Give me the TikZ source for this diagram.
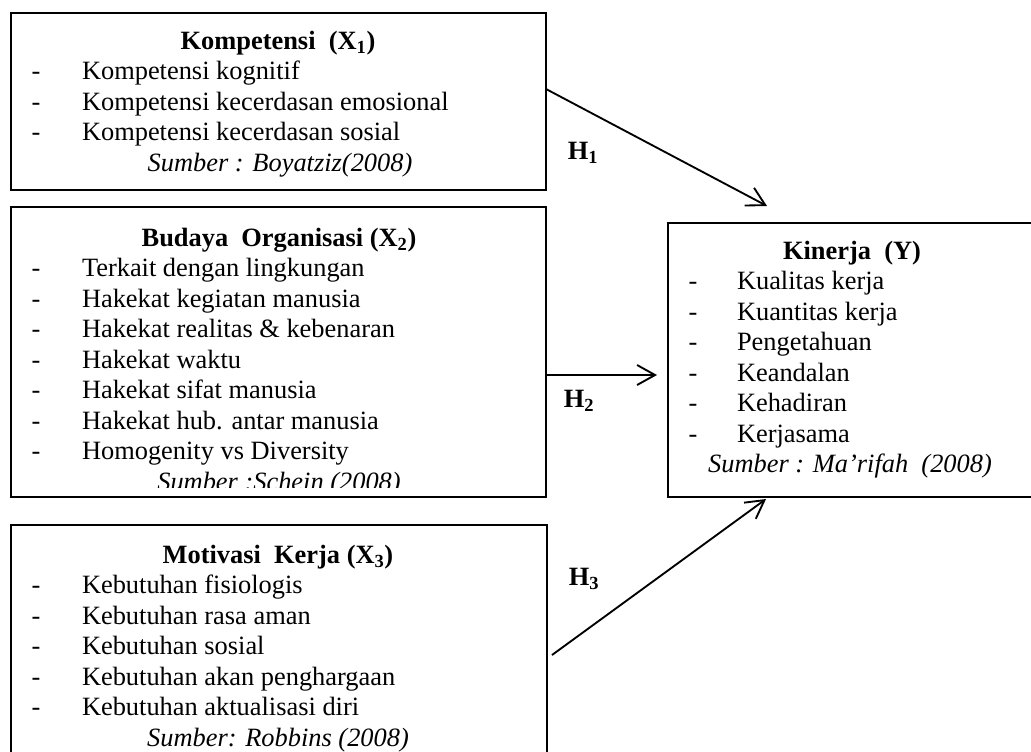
\documentclass[tikz,border=0pt]{standalone}
\usepackage{fontspec}
\setmainfont{Liberation Serif}
\usetikzlibrary{calc,fit,arrows.meta}
\begin{document}
\begin{tikzpicture}[x=0.75pt,y=-0.75pt,
  every node/.style={inner sep=0pt, outer sep=0pt},
  box/.style={draw, line width=1.4pt, inner sep=0pt},
  body/.style={font=\fontsize{19.8}{23}\selectfont, anchor=base west},
  hy/.style={font=\fontsize{19.8}{23}\selectfont, anchor=base},
  ttl/.style={font=\fontsize{19.8}{23}\selectfont\bfseries, anchor=base},
  src/.style={font=\fontsize{19.8}{23}\selectfont\itshape, anchor=base},
  hlab/.style={font=\fontsize{19.8}{23}\selectfont\bfseries, anchor=center},
  arr/.style={line width=1.4pt, -{Straight Barb[length=13.5pt,width=15pt,line width=1.4pt]}},
]
\clip (0,0) rectangle (1031,751);
\fill[white] (0,0) rectangle (1031,751);

% boxes
\node[box, fit={(11,13) (546,190)}] (b1) {};
\node[box, fit={(11,207) (546,497)}] (b2) {};
\node[box, fit={(11,525) (547,780)}] (b3) {};
\node[box, fit={(668,223) (1045,497)}] (Y) {};

% Box 1
\node[ttl] (b1h) at (278,49) {Kompetensi\ \ (X\textsubscript{1})};
\foreach \t [count=\i] in {Kompetensi kognitif, Kompetensi kecerdasan emosional, Kompetensi kecerdasan sosial} {
  \node[hy] (b1d\i) at ({36},{49+30.5*\i}) {-};
  \node[body] (b1t\i) at ({82},{49+30.5*\i}) {\t};
}
\node[src] (b1s) at (280,171) {Sumber : Boyatziz(2008)};

% Box 2
\node[ttl] (b2h) at (279,246) {Budaya\ \ Organisasi (X\textsubscript{2})};
\foreach \t [count=\i] in {Terkait dengan lingkungan, Hakekat kegiatan manusia, Hakekat realitas \& kebenaran, Hakekat waktu, Hakekat sifat manusia, Hakekat hub. antar manusia, Homogenity vs Diversity} {
  \node[hy] (b2d\i) at ({36},{246+30.5*\i}) {-};
  \node[body] (b2t\i) at ({82},{246+30.5*\i}) {\t};
}
\begin{scope}
  \clip (11,207) rectangle (546,487);
  \node[src] (b2s) at (279,490) {Sumber :Schein (2008)};
\end{scope}

% Box 3
\node[ttl] (b3h) at (278,563) {Motivasi\ \ Kerja (X\textsubscript{3})};
\foreach \t [count=\i] in {Kebutuhan fisiologis, Kebutuhan rasa aman, Kebutuhan sosial, Kebutuhan akan penghargaan, Kebutuhan aktualisasi diri} {
  \node[hy] (b3d\i) at ({36},{563+30.5*\i}) {-};
  \node[body] (b3t\i) at ({82},{563+30.5*\i}) {\t};
}
\node[src] (b3s) at (278,746) {Sumber: Robbins (2008)};

% Box Y
\node[ttl] (Yh) at (852,259) {Kinerja\ \ (Y)};
\foreach \t [count=\i] in {Kualitas kerja, Kuantitas kerja, Pengetahuan, Keandalan, Kehadiran, Kerjasama} {
  \node[hy] (Yd\i) at ({693},{259+30.5*\i}) {-};
  \node[body] (Yt\i) at ({737},{259+30.5*\i}) {\t};
}
\node[src] (Ys) at (850,472.5) {Sumber : Ma’rifah\ \ (2008)};

% arrows
\draw[arr] ($(b1.north east)+(0,76)$) -- ($(Y.north west)+(99,-17)$);
\draw[arr] ($(b2.north east)+(0,168)$) -- ($(Y.north west)+(-11,152)$);
\draw[arr] ($(b3.north east)+(5,130)$) -- ($(Y.south west)+(98,2)$);

% labels
\node[hlab] (h1) at (583,153) {H\textsubscript{1}};
\node[hlab] (h2) at (579,401) {H\textsubscript{2}};
\node[hlab] (h3) at (584,579) {H\textsubscript{3}};
\end{tikzpicture}
\end{document}
